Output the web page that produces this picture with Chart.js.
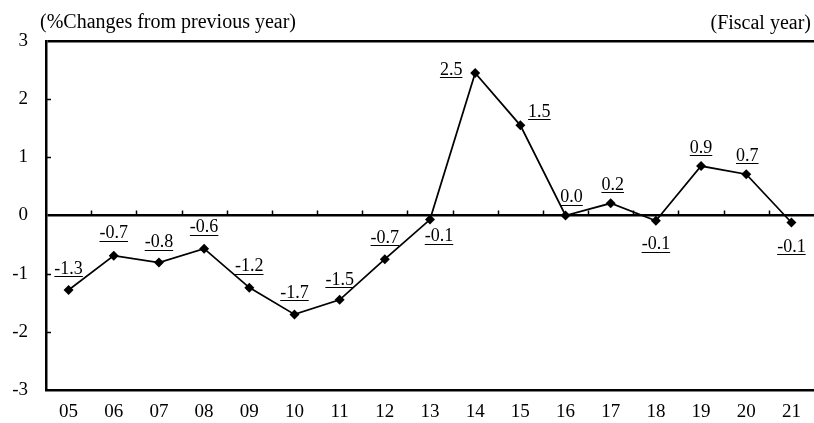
<!DOCTYPE html>
<html>
<head>
<meta charset="utf-8">
<script src="https://cdn.jsdelivr.net/npm/chart.js@4/dist/chart.umd.min.js"></script>
<style>
  html, body { margin: 0; padding: 0; background: #fff; overflow: hidden; }
  #c { display: block; }
</style>
</head>
<body>
<canvas id="c" width="814" height="423"></canvas>
<script>
// ---- data ----
const categories = ["05","06","07","08","09","10","11","12","13","14","15","16","17","18","19","20","21"];
const values = [-1.28, -0.69, -0.81, -0.57, -1.24, -1.70, -1.45, -0.75, -0.07, 2.45, 1.55, 0.0, 0.21, -0.09, 0.85, 0.71, -0.12];
const valueLabels = ["-1.3","-0.7","-0.8","-0.6","-1.2","-1.7","-1.5","-0.7","-0.1","2.5","1.5","0.0","0.2","-0.1","0.9","0.7","-0.1"];
const yTickLabels = ["-3","-2","-1","0","1","2","3"];
const yTitle = "(%Changes from previous year)";
const xTitle = "(Fiscal year)";

// label placement (offset of label centre from its point, px)
const labelOffsets = [
  [0,-21],[0,-22],[0,-20],[0,-21],[0,-21],[0,-21],[0,-20],[0,-21],
  [9,17],[-24,-3],[19,-13],[6,-18],[2,-18],[0,24],[0,-18],[1,-18],[0,25]
];

const SERIF = '"Liberation Serif", "Times New Roman", serif';

const decorPlugin = {
  id: 'decor',
  beforeDatasetsDraw(chart) {
    const ctx = chart.ctx;
    const ca = chart.chartArea;
    const y = chart.scales.y;
    ctx.save();
    ctx.strokeStyle = '#000';
    ctx.lineWidth = 1.5;
    [-2,-1,1,2].forEach(v => {
      const py = Math.round(y.getPixelForValue(v)) + 0.5;
      ctx.beginPath();
      ctx.moveTo(ca.left, py);
      ctx.lineTo(ca.left + 5, py);
      ctx.stroke();
    });
    const zy = y.getPixelForValue(0);
    const step = (ca.right - ca.left) / categories.length;
    for (let i = 1; i < categories.length; i++) {
      const px = Math.round(ca.left + step * i) + 0.5;
      ctx.beginPath();
      ctx.moveTo(px, zy);
      ctx.lineTo(px, zy - 5);
      ctx.stroke();
    }
    ctx.restore();
  },
  afterDatasetsDraw(chart) {
    const ctx = chart.ctx;
    const meta = chart.getDatasetMeta(0);
    ctx.save();
    ctx.font = '18px ' + SERIF;
    ctx.fillStyle = '#000';
    ctx.strokeStyle = '#000';
    ctx.textAlign = 'center';
    ctx.textBaseline = 'middle';
    ctx.lineWidth = 1;
    meta.data.forEach((pt, i) => {
      const [dx, dy] = labelOffsets[i];
      const cx = pt.x + dx, cy = pt.y + dy;
      const t = valueLabels[i];
      ctx.fillText(t, cx, cy);
      const w = ctx.measureText(t).width;
      const uy = Math.round(cy + 7) + 0.5;
      ctx.beginPath();
      ctx.moveTo(cx - w / 2, uy);
      ctx.lineTo(cx + w / 2, uy);
      ctx.stroke();
    });
    ctx.font = '20px ' + SERIF;
    ctx.textBaseline = 'alphabetic';
    ctx.textAlign = 'left';
    ctx.fillText(yTitle, 40, 28);
    ctx.textAlign = 'right';
    ctx.fillText(xTitle, 811, 29);
    ctx.restore();
  }
};

new Chart(document.getElementById('c'), {
  type: 'line',
  data: {
    labels: categories,
    datasets: [{
      data: values,
      borderColor: '#000',
      borderWidth: 1.75,
      pointStyle: 'rectRot',
      pointRadius: 5,
      pointBackgroundColor: '#000',
      pointBorderColor: '#000',
      pointBorderWidth: 0,
      tension: 0,
      fill: false
    }]
  },
  options: {
    responsive: false,
    animation: false,
    devicePixelRatio: 1,
    layout: { autoPadding: false, padding: { top: 41, right: 0, left: 0, bottom: 0 } },
    plugins: { legend: { display: false }, tooltip: { enabled: false }, title: { display: false } },
    scales: {
      x: {
        offset: true,
        grid: { display: false, drawTicks: false },
        border: { display: true, color: '#000', width: 2.5 },
        ticks: { color: '#000', font: { family: SERIF, size: 19 }, padding: 11, maxRotation: 0, autoSkip: false },
        afterFit(s) { s.height = 33; s.paddingLeft = 0; s.paddingRight = 0; }
      },
      y: {
        min: -3, max: 3,
        grid: {
          drawTicks: false,
          color: ctx => (ctx.tick && (ctx.tick.value === 0 || ctx.tick.value === 3)) ? '#000' : 'rgba(0,0,0,0)',
          lineWidth: ctx => (ctx.tick && (ctx.tick.value === 0 || ctx.tick.value === 3)) ? 2.5 : 0
        },
        border: { display: true, color: '#000', width: 2.5 },
        ticks: {
          stepSize: 1,
          color: '#000',
          font: { family: SERIF, size: 19 },
          padding: 18,
          callback: (v) => yTickLabels[Math.round(v) + 3]
        },
        afterFit(s) { s.width = 46; }
      }
    }
  },
  plugins: [decorPlugin]
});
</script>
</body>
</html>
